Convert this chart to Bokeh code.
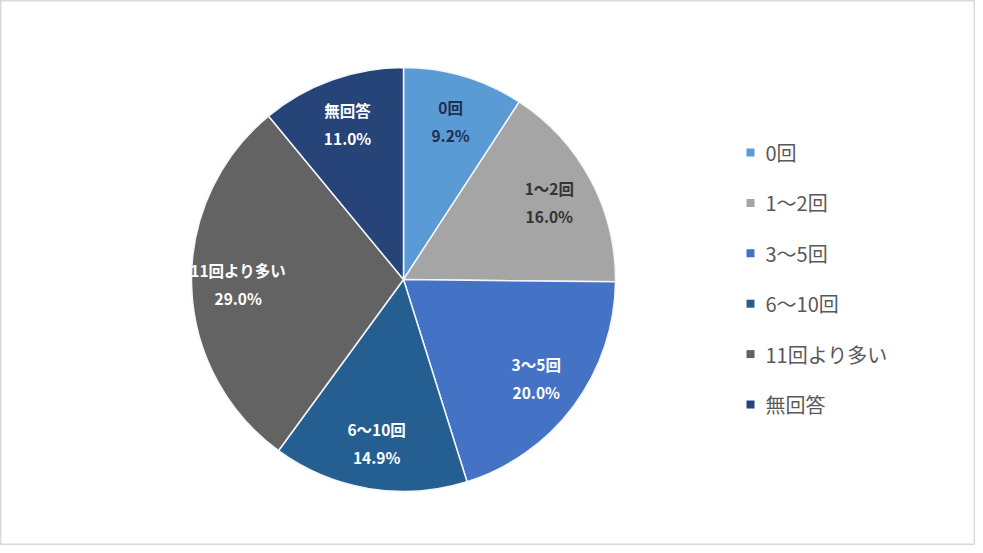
import math
from bokeh.plotting import figure
from bokeh.models import ColumnDataSource, Range1d
from bokeh.core.properties import value
from bokeh.embed import file_html
from bokeh.resources import INLINE

# ---- data ----
categories = ["0回", "1～2回", "3～5回", "6～10回", "11回より多い", "無回答"]
percents = [9.2, 16.0, 20.0, 14.9, 29.0, 11.0]

# ---- style ----
colors = ["#5B9BD5", "#A5A5A5", "#4472C4", "#255E91", "#636363", "#264478"]
label_colors = ["#1F2F4F", "#333333", "#FFFFFF", "#FFFFFF", "#FFFFFF", "#FFFFFF"]
FONT = "Noto Sans CJK JP"

W, H = 975, 545
p = figure(width=W, height=H, output_backend="svg", toolbar_location=None,
           x_range=Range1d(0, W), y_range=Range1d(0, H), min_border=0)
p.axis.visible = False
p.grid.visible = False
p.outline_line_color = "#D9D9D9"
p.outline_line_width = 2
p.background_fill_color = "white"
p.border_fill_color = "white"

# pie geometry (data units == pixels)
cx, cy, R = 403, H - 279, 212
total = sum(percents)
starts, ends, lx, ly = [], [], [], []
cum = 0.0
for v in percents:
    a0 = math.pi / 2 - 2 * math.pi * cum / total
    a1 = math.pi / 2 - 2 * math.pi * (cum + v) / total
    mid = (a0 + a1) / 2
    starts.append(a0)
    ends.append(a1)
    lx.append(cx + 0.78 * R * math.cos(mid))
    ly.append(cy + 0.78 * R * math.sin(mid))
    cum += v

src = ColumnDataSource(dict(
    start=starts, end=ends, color=colors, lx=lx, ly=ly,
    name=categories, pct=[f"{v:.1f}%" for v in percents], lc=label_colors,
))

p.wedge(x=cx, y=cy, radius=R, start_angle="start", end_angle="end",
        direction="clock", fill_color="color", line_color="#F2F6FC",
        line_width=1.5, source=src)

p.text(x="lx", y="ly", text="name", text_color="lc", y_offset=-14,
       text_align="center", text_baseline="middle", text_font=value(FONT),
       text_font_size="15.5px", text_font_style="bold", source=src)
p.text(x="lx", y="ly", text="pct", text_color="lc", y_offset=14,
       text_align="center", text_baseline="middle", text_font=value(FONT),
       text_font_size="15.5px", text_font_style="bold", source=src)

# legend (manual)
leg_y = [H - (152 + 50.4 * i) for i in range(len(categories))]
leg_src = ColumnDataSource(dict(y=leg_y, color=colors, name=categories))
p.scatter(x=750, y="y", marker="square", size=8, fill_color="color",
          line_color=None, source=leg_src)
p.text(x=765, y="y", text="name", text_color="#595959", text_align="left",
       text_baseline="middle", text_font=value(FONT), text_font_size="20px",
       source=leg_src)

open("out.html", "w").write(file_html(p, INLINE))
